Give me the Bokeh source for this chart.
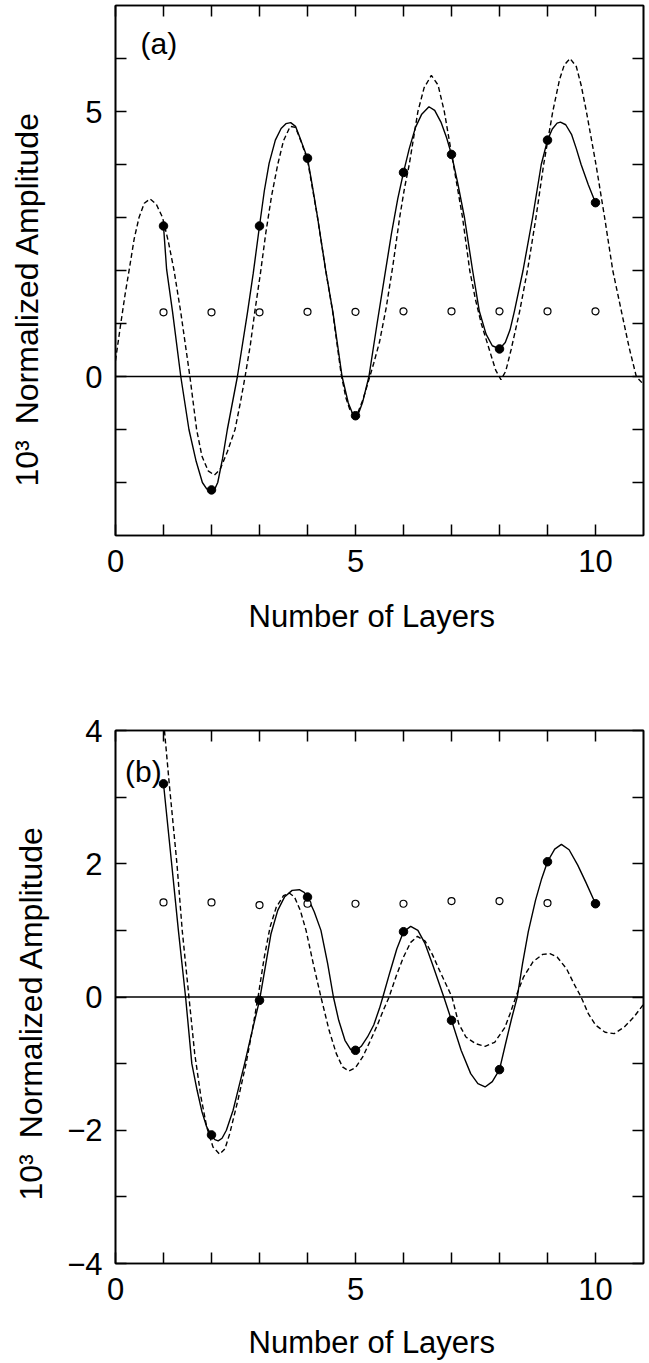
import math
from bokeh.plotting import figure
from bokeh.models import Range1d, LinearAxis, FixedTicker, Span, Label
from bokeh.layouts import column
from bokeh.embed import file_html
from bokeh.resources import INLINE

FONT = "Liberation Sans"

# ---------------- data ----------------
layers = [1, 2, 3, 4, 5, 6, 7, 8, 9, 10]

# panel (a)
a_measured = [2.84, -2.14, 2.84, 4.12, -0.74, 3.85, 4.19, 0.52, 4.46, 3.28]
a_open = [1.21, 1.21, 1.21, 1.22, 1.22, 1.23, 1.23, 1.23, 1.23, 1.23]
a_fit_x = [1.0, 1.065, 1.19, 1.36, 1.53, 1.68, 1.81, 1.9, 2.0, 2.07, 2.13, 2.23, 2.33, 2.54,
           2.75, 2.87, 3.0, 3.1, 3.2, 3.33, 3.45, 3.55, 3.65, 3.75, 3.86, 4.0, 4.1, 4.21,
           4.38, 4.53, 4.72, 4.85, 4.93, 5.0, 5.07, 5.15, 5.28, 5.45, 5.6, 5.75, 5.88, 6.0,
           6.12, 6.25, 6.38, 6.53, 6.65, 6.78, 6.9, 7.0, 7.13, 7.27, 7.44, 7.58, 7.72, 7.85,
           8.0, 8.12, 8.22, 8.31, 8.49, 8.69, 8.87, 9.0, 9.1, 9.2, 9.27, 9.38, 9.5, 9.6,
           9.7, 9.85, 10.0]
a_fit_y = [2.84, 2.02, 1.21, 0.0, -1.0, -1.6, -2.0, -2.12, -2.16, -2.12, -2.0, -1.55, -1.0, 0.0,
           1.21, 1.95, 2.84, 3.5, 4.02, 4.46, 4.68, 4.77, 4.79, 4.72, 4.46, 4.12, 3.6, 3.0,
           2.0, 1.21, 0.0, -0.5, -0.68, -0.75, -0.68, -0.48, 0.0, 1.0, 1.85, 2.7, 3.35, 3.85,
           4.3, 4.7, 4.95, 5.09, 5.02, 4.8, 4.5, 4.19, 3.65, 3.0, 2.0, 1.23, 0.8, 0.58,
           0.52, 0.64, 0.88, 1.23, 2.0, 3.0, 4.0, 4.46, 4.67, 4.78, 4.8, 4.75, 4.57, 4.3,
           4.0, 3.62, 3.28]
a_calc_x = [0.0, 0.11, 0.2, 0.29, 0.39, 0.49, 0.6, 0.72, 0.85, 0.98, 1.1, 1.22, 1.36, 1.55,
            1.69, 1.8, 1.93, 2.06, 2.18, 2.33, 2.49, 2.6, 2.7, 2.81, 2.9, 3.02, 3.13, 3.25,
            3.38, 3.5, 3.64, 3.75, 3.86, 4.0, 4.2, 4.37, 4.52, 4.7, 4.8, 4.88, 4.96, 5.05,
            5.15, 5.25, 5.38, 5.5, 5.64, 5.78, 5.92, 6.02, 6.12, 6.3, 6.43, 6.58, 6.72, 6.85,
            7.04, 7.23, 7.38, 7.5, 7.62, 7.79, 7.92, 8.03, 8.13, 8.24, 8.42, 8.59, 8.76, 8.92,
            9.11, 9.25, 9.35, 9.47, 9.6, 9.7, 9.81, 10.01, 10.19, 10.36, 10.54, 10.7, 10.85, 11.0]
a_calc_y = [0.3, 1.0, 1.55, 2.04, 2.6, 3.0, 3.27, 3.35, 3.25, 3.0, 2.55, 2.0, 1.21, 0.0,
            -1.0, -1.5, -1.78, -1.86, -1.75, -1.42, -1.0, -0.5, 0.0, 0.6, 1.21, 1.95, 2.7, 3.4,
            4.0, 4.45, 4.72, 4.7, 4.45, 4.08, 3.05, 2.05, 1.25, 0.05, -0.4, -0.62, -0.72, -0.68,
            -0.45, -0.15, 0.25, 0.65, 1.3, 2.1, 3.0, 3.55, 4.0, 5.0, 5.45, 5.68, 5.5, 5.0,
            4.0, 3.0, 2.0, 1.45, 1.0, 0.5, 0.12, -0.06, 0.1, 0.5, 1.23, 2.04, 3.0, 4.0,
            5.0, 5.6, 5.88, 6.0, 5.85, 5.5, 5.0, 4.0, 3.0, 2.0, 1.23, 0.55, 0.0, -0.15]

# panel (b)
b_measured = [3.2, -2.07, -0.05, 1.50, -0.80, 0.98, -0.35, -1.09, 2.03, 1.40]
b_open = [1.42, 1.42, 1.38, 1.40, 1.40, 1.40, 1.44, 1.44, 1.41, 1.40]
b_fit_x = [1.0, 1.17, 1.31, 1.46, 1.59, 1.7, 1.8, 1.9, 2.0, 2.07, 2.14, 2.22, 2.31, 2.45,
           2.57, 2.69, 2.85, 3.0, 3.12, 3.24, 3.38, 3.52, 3.68, 3.83, 3.93, 4.0, 4.14, 4.28,
           4.42, 4.54, 4.65, 4.78, 4.9, 5.0, 5.12, 5.25, 5.38, 5.5, 5.57, 5.72, 5.86, 6.0,
           6.15, 6.3, 6.45, 6.6, 6.84, 7.0, 7.2, 7.4, 7.55, 7.7, 7.85, 8.0, 8.12, 8.25,
           8.37, 8.48, 8.6, 8.75, 8.88, 9.0, 9.15, 9.29, 9.45, 9.63, 9.8, 10.0]
b_fit_y = [3.2, 2.0, 1.0, 0.0, -1.0, -1.4, -1.72, -1.95, -2.08, -2.14, -2.16, -2.12, -2.0, -1.7,
           -1.35, -1.0, -0.5, -0.05, 0.45, 0.95, 1.3, 1.5, 1.6, 1.61, 1.57, 1.5, 1.28, 1.0,
           0.5, 0.0, -0.35, -0.65, -0.79, -0.81, -0.74, -0.6, -0.42, -0.17, 0.0, 0.38, 0.72, 0.98,
           1.06, 1.0, 0.8, 0.5, 0.0, -0.35, -0.8, -1.15, -1.3, -1.35, -1.27, -1.09, -0.72, -0.33,
           0.0, 0.5, 0.98, 1.45, 1.78, 2.03, 2.22, 2.29, 2.21, 1.98, 1.72, 1.40]
b_calc_x = [1.02, 1.12, 1.28, 1.39, 1.53, 1.65, 1.78, 1.9, 2.03, 2.17, 2.28, 2.38, 2.55, 2.72,
            2.85, 2.97, 3.1, 3.22, 3.35, 3.5, 3.62, 3.73, 3.85, 3.97, 4.12, 4.28, 4.45, 4.6,
            4.73, 4.86, 5.0, 5.15, 5.3, 5.45, 5.58, 5.7, 5.85, 6.0, 6.15, 6.29, 6.45, 6.6,
            6.75, 6.88, 7.01, 7.15, 7.3, 7.5, 7.7, 7.9, 8.11, 8.22, 8.34, 8.5, 8.7, 8.9,
            9.05, 9.2, 9.4, 9.55, 9.7, 9.85, 10.0, 10.2, 10.39, 10.6, 10.8, 11.0]
b_calc_y = [4.0, 3.2, 2.0, 1.0, 0.0, -0.85, -1.5, -1.95, -2.25, -2.36, -2.28, -2.05, -1.55, -1.0,
            -0.5, 0.0, 0.6, 1.05, 1.35, 1.52, 1.56, 1.5, 1.3, 1.0, 0.5, 0.0, -0.5, -0.85,
            -1.05, -1.11, -1.06, -0.9, -0.67, -0.43, -0.2, 0.0, 0.32, 0.6, 0.82, 0.91, 0.84, 0.64,
            0.4, 0.2, 0.0, -0.4, -0.6, -0.7, -0.74, -0.68, -0.46, -0.25, 0.0, 0.3, 0.53, 0.64,
            0.65, 0.6, 0.42, 0.2, 0.0, -0.25, -0.42, -0.53, -0.55, -0.45, -0.3, -0.11]

x_major = [0, 5, 10]
x_minor = [1, 2, 3, 4, 6, 7, 8, 9]
a_y_major = [0, 5]
a_y_minor = [-2, -1, 1, 2, 3, 4, 6]
b_y_major = [-4, -2, 0, 2, 4]
b_y_minor = [-3, -1, 1, 3]
b_y_labels = {-4: "\u22124", -2: "\u22122"}

X_TITLE = "Number of Layers"
Y_TITLE = "10\u00b3\u2002Normalized Amplitude"


def style_axis(ax, major, minor, show_labels, standoff=12, overrides=None):
    ax.ticker = FixedTicker(ticks=major, minor_ticks=minor)
    ax.major_tick_in = 11
    ax.major_tick_out = 0
    ax.minor_tick_in = 11
    ax.minor_tick_out = 0
    ax.major_tick_line_color = "black"
    ax.minor_tick_line_color = "black"
    ax.major_tick_line_width = 1.5
    ax.minor_tick_line_width = 1.5
    ax.axis_line_color = "black"
    ax.axis_line_width = 1.6
    if show_labels:
        ax.major_label_text_font = FONT
        ax.major_label_text_font_size = "31px"
        ax.major_label_text_color = "black"
        ax.major_label_standoff = standoff
        if overrides:
            ax.major_label_overrides = overrides
    else:
        ax.major_label_text_font_size = "1px"
        ax.major_label_text_color = None
        ax.major_label_standoff = 0


def style_title(ax, text, standoff, size):
    ax.axis_label = text
    ax.axis_label_text_font = FONT
    ax.axis_label_text_font_size = size
    ax.axis_label_text_font_style = "normal"
    ax.axis_label_text_color = "black"
    ax.axis_label_standoff = standoff


def make_panel(ylo, yhi, frame_h, top, bottom, y_major, y_minor, overrides,
               fit_x, fit_y, calc_x, calc_y, measured, opened, tag, tag_xy,
               x_stand, xt_stand, y_stand, yt_stand, y_pad, x_pad):
    p = figure(frame_width=528, frame_height=frame_h,
               x_range=Range1d(0, 11), y_range=Range1d(ylo, yhi),
               output_backend="svg", toolbar_location=None,
               min_border_left=115, min_border_right=6,
               min_border_top=top, min_border_bottom=bottom)
    p.grid.visible = False
    p.outline_line_color = "black"
    p.outline_line_width = 1.6
    p.background_fill_color = "white"
    p.border_fill_color = "white"

    style_axis(p.xaxis[0], x_major, x_minor, True, standoff=x_stand)
    style_axis(p.yaxis[0], y_major, y_minor, True, standoff=y_stand, overrides=overrides)
    style_title(p.xaxis[0], X_TITLE + x_pad, xt_stand, "31px")
    style_title(p.yaxis[0], Y_TITLE + y_pad, yt_stand, "32px")

    top_ax = LinearAxis()
    style_axis(top_ax, x_major, x_minor, False)
    p.add_layout(top_ax, "above")
    right_ax = LinearAxis()
    style_axis(right_ax, y_major, y_minor, False)
    p.add_layout(right_ax, "right")

    p.add_layout(Span(location=0, dimension="width", line_color="black", line_width=1.6))

    p.line(calc_x, calc_y, line_color="black", line_width=1.4, line_dash="5 3")
    p.line(fit_x, fit_y, line_color="black", line_width=1.4)
    p.scatter(layers, opened, marker="circle", size=7, fill_color="white",
              line_color="black", line_width=1.2)
    p.scatter(layers, measured, marker="circle", size=8.5, fill_color="black",
              line_color="black")

    p.add_layout(Label(x=tag_xy[0], y=tag_xy[1], text=tag, text_font=FONT,
                       text_font_size="30px", text_color="black",
                       text_align="left", text_baseline="alphabetic"))
    return p


pa = make_panel(-3, 7, 530, 5, 177, a_y_major, a_y_minor, None,
                a_fit_x, a_fit_y, a_calc_x, a_calc_y, a_measured, a_open,
                "(a)", (0.52, 6.29), 14, 24, 13, 37,
                "\u2003\u2002\u00a0", "\u2002")
pb = make_panel(-4, 4, 533, 18, 100, b_y_major, b_y_minor, b_y_labels,
                b_fit_x, b_fit_y, b_calc_x, b_calc_y, b_measured, b_open,
                "(b)", (0.2, 3.39), 14, 22, 13, 15,
                "\u2003", "\u2002")

layout = column(pa, pb, spacing=0)
open("out.html", "w").write(file_html(layout, INLINE))
